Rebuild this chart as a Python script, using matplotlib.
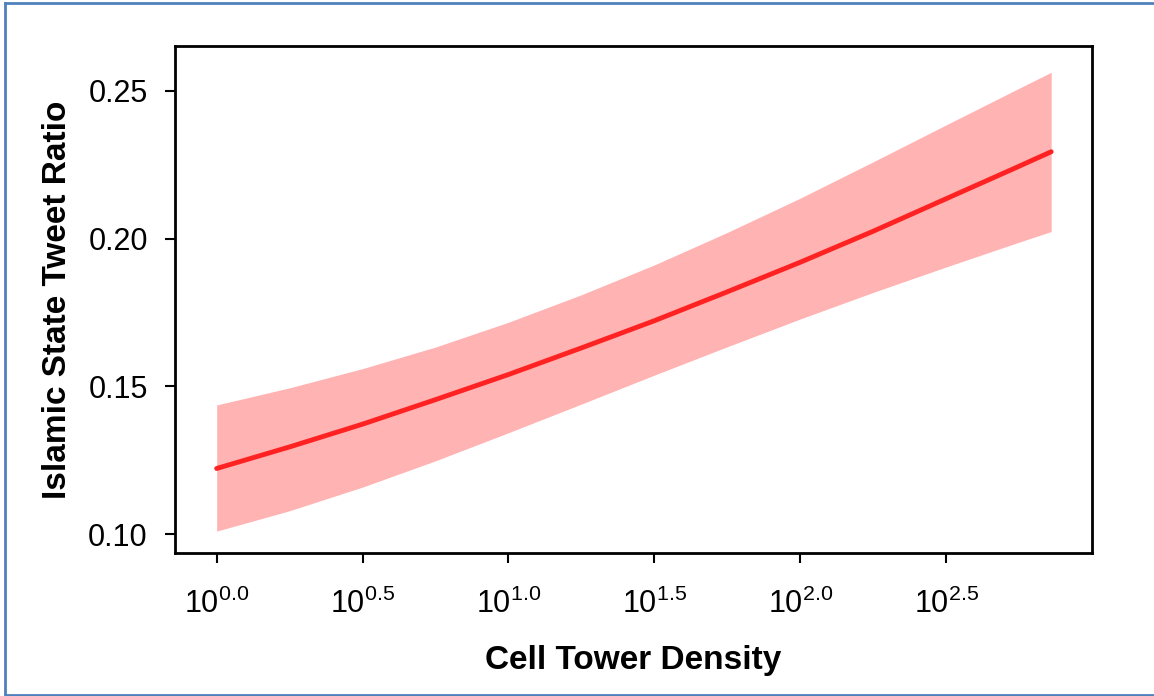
import numpy as np
import matplotlib
matplotlib.use("Agg")
import matplotlib.pyplot as plt
from matplotlib.lines import Line2D

plt.rcParams['font.family'] = ['Liberation Sans', 'DejaVu Sans']
plt.rcParams['mathtext.fontset'] = 'custom'
plt.rcParams['mathtext.rm'] = 'Liberation Sans'
plt.rcParams['mathtext.default'] = 'regular'

# predicted ratio vs log10 cell tower density, with confidence band
log_density = [0.0, 0.25, 0.5, 0.75, 1.0, 1.25, 1.5, 1.75, 2.0, 2.25, 2.5, 2.75, 2.86]
fit = [0.1222, 0.1295, 0.1372, 0.1455, 0.1540, 0.1630, 0.1722, 0.1820,
       0.1920, 0.2025, 0.2135, 0.2245, 0.2294]
lower = [0.1010, 0.1079, 0.1159, 0.1248, 0.1343, 0.1440, 0.1538, 0.1634,
         0.1728, 0.1818, 0.1904, 0.1988, 0.2024]
upper = [0.1437, 0.1495, 0.1560, 0.1633, 0.1717, 0.1810, 0.1911, 0.2021,
         0.2137, 0.2260, 0.2385, 0.2509, 0.2563]

tick_exps = [0.0, 0.5, 1.0, 1.5, 2.0, 2.5]
y_ticks = [0.10, 0.15, 0.20, 0.25]

density = 10 ** np.array(log_density)

fig = plt.figure(figsize=(11.54, 6.96), dpi=100)
ax = fig.add_axes([0.1516, 0.2055, 0.7947, 0.7284])

ax.fill_between(density, lower, upper, color='#ffb3b3', linewidth=0)
ax.plot(density, fit, color='#ff2222', linewidth=3.5, solid_capstyle='round')

ax.set_xscale('log')
ax.set_xlim(10 ** -0.143, 10 ** 3.0)
ax.set_ylim(0.0936, 0.2652)
ax.set_xticks([10 ** e for e in tick_exps])
ax.set_xticklabels(['$10^{%.1f}$' % e for e in tick_exps])
ax.xaxis.set_minor_locator(matplotlib.ticker.NullLocator())
ax.set_yticks(y_ticks)
ax.set_yticklabels(['%.2f' % v for v in y_ticks])

for s in ax.spines.values():
    s.set_linewidth(2)
ax.tick_params(axis='both', direction='out', length=7.5, width=1.5, labelsize=22)
ax.tick_params(axis='x', pad=18)
ax.tick_params(axis='y', pad=12)

ax.set_xlabel('Cell Tower Density', fontsize=24, fontweight='bold', labelpad=18)
ax.set_ylabel('Islamic State Tweet Ratio', fontsize=24, fontweight='bold', labelpad=11)

# blue frame on left, top and bottom edges
W, H = 1154, 696
for xs, ys in [([5 / W, 5 / W], [3 / H, 1 - 3 / H]),
               ([5 / W, 1], [1 - 3 / H, 1 - 3 / H]),
               ([5 / W, 1], [1.5 / H, 1.5 / H])]:
    fig.add_artist(Line2D(xs, ys, color='#4f81bd', linewidth=2, transform=fig.transFigure))

fig.savefig('out.png', dpi=100)
